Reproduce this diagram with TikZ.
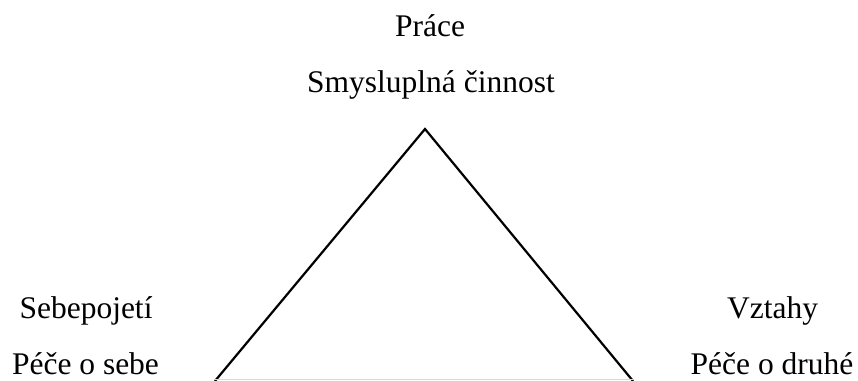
\documentclass[tikz,border=0pt]{standalone}
\usepackage{fontspec}
\setmainfont{Liberation Serif}
\begin{document}
\begin{tikzpicture}[x=1pt,y=-1pt,
  lbl/.style={anchor=base,inner sep=0pt,font=\fontsize{31.5}{38}\selectfont},
  side/.style={draw=black,line width=2.2pt,line join=miter}]
\useasboundingbox[fill=white] (0,0) rectangle (858,380);
\node[lbl] (prace) at (430,36.5) {Práce};
\node[lbl] (smysl) at (431,92.5) {Smysluplná činnost};
\node[lbl] (sebep) at (86,318.5) {Sebepojetí};
\node[lbl] (pecese) at (85.5,374) {Péče o sebe};
\node[lbl] (vztahy) at (772.5,318.5) {Vztahy};
\node[lbl] (pecedr) at (772,374) {Péče o druhé};
\coordinate (apex) at (425,129);
\coordinate (bl) at (215,381);
\coordinate (br) at (633,381);
\draw[side] (bl) -- (apex) -- (br);
\draw[black!15,line width=0.8pt] ([yshift=1.6pt]bl) -- ([yshift=1.6pt]br);
\end{tikzpicture}
\end{document}
